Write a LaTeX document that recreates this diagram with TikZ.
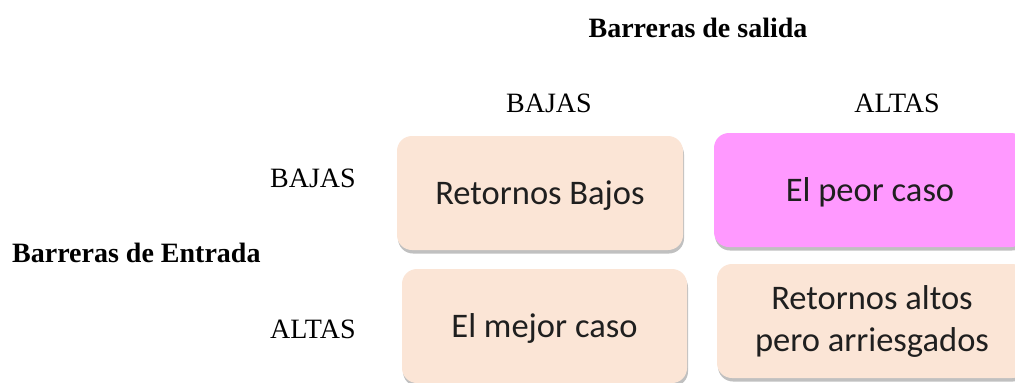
\documentclass[tikz,border=0pt]{standalone}
\usepackage{fontspec}
\setmainfont{Liberation Serif}
\newfontfamily\boxfont{Carlito}
\usetikzlibrary{shadows}
\definecolor{peach}{HTML}{FBE5D6}
\definecolor{pinkbox}{HTML}{FF99FF}
\definecolor{boxtext}{HTML}{1F1F1F}
\begin{document}
\begin{tikzpicture}[x=1bp,y=-1bp,
  lbl/.style={font=\fontsize{28bp}{34bp}\selectfont, inner sep=0pt, anchor=base},
  title/.style={lbl, font=\fontsize{28bp}{34bp}\selectfont\bfseries},
  cell/.style={rounded corners=15bp, inner sep=0pt, text=boxtext,
    font=\boxfont\fontsize{34.5bp}{42bp}\selectfont, align=center,
    drop shadow={shadow xshift=1bp, shadow yshift=-3.5bp, opacity=0.35, fill=black!70}},
]
\useasboundingbox (0,0) rectangle (1015,382);
\clip (0,0) rectangle (1015,382);
\fill[white] (0,0) rectangle (1015,382);

\node[title] (ts) at (698,37) {Barreras de salida};
\node[lbl] (cb) at (549,112) {BAJAS};
\node[lbl] (ca) at (897,112) {ALTAS};
\node[lbl, anchor=base west] (rb) at (270,187) {BAJAS};
\node[lbl, anchor=base west] (ra) at (270,338) {ALTAS};
\node[title, anchor=base west] (te) at (12,262) {Barreras de Entrada};

\node[cell, fill=peach, minimum width=286bp, minimum height=114bp,
  text height=22bp, text depth=0bp] (b1) at (540,193) {Retornos Bajos};
\node[cell, fill=pinkbox, minimum width=312bp, minimum height=114bp,
  text height=22bp, text depth=0bp] (b2) at (870,190) {El peor caso};
\node[cell, fill=peach, minimum width=285bp, minimum height=114bp,
  text height=22bp, text depth=0bp] (b3) at (544.5,326) {El mejor caso};
\node[cell, fill=peach, minimum width=310bp, minimum height=114bp] (b4) at (872,321) {Retornos altos\\pero arriesgados};
\end{tikzpicture}
\end{document}
